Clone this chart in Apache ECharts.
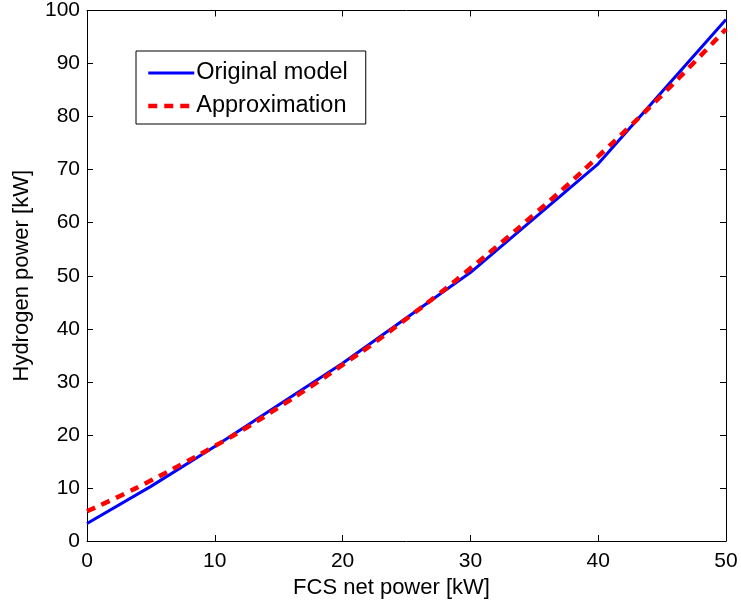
<!DOCTYPE html>
<html>
<head>
<meta charset="utf-8">
<script src="https://cdn.jsdelivr.net/npm/echarts@6/dist/echarts.min.js"></script>
<style>html,body{margin:0;padding:0;background:#fff}#c{width:741px;height:605px}</style>
</head>
<body>
<div id="c"></div>
<script>
const xTicks = [0, 10, 20, 30, 40, 50];
const yTicks = [0, 10, 20, 30, 40, 50, 60, 70, 80, 90, 100];
const originalX = [0, 5, 10, 20, 30, 40, 50];
const originalY = [3.3, 10.3, 17.8, 33.5, 50.6, 71.1, 98.3];
const approxX = [0, 2.5, 5, 7.5, 10, 12.5, 15, 17.5, 20, 22.5, 25, 27.5, 30, 32.5, 35, 37.5, 40, 42.5, 45, 47.5, 50];
const approxY = [5.6, 8.4, 11.4, 14.6, 17.9, 21.4, 25.2, 29.1, 33.2, 37.4, 41.9, 46.5, 51.4, 56.4, 61.6, 66.9, 72.5, 78.2, 84.1, 90.2, 96.5];
const seriesNames = ['Original model', 'Approximation'];

const font = 'Liberation Sans, Arial, Helvetica, sans-serif';
const chart = echarts.init(document.getElementById('c'), null, {renderer: 'canvas'});
const axisCommon = {
  axisLine: {show: true, onZero: false, lineStyle: {color: '#000', width: 1}},
  axisTick: {show: true, inside: true, length: 6, lineStyle: {color: '#000'}},
  splitLine: {show: false}
};
chart.setOption({
  animation: false,
  backgroundColor: '#fff',
  grid: {left: 87, right: 15, top: 9, bottom: 64, containLabel: false},
  legend: {
    data: [
      {name: seriesNames[0], itemStyle: {opacity: 0}, lineStyle: {color: '#0000ff', width: 3, type: 'solid'}},
      {name: seriesNames[1], itemStyle: {opacity: 0}, lineStyle: {color: '#ff0000', width: 4.5, type: [9, 7]}}
    ],
    orient: 'vertical',
    left: 136, top: 51,
    padding: [10, 18, 6, 10],
    itemGap: 9,
    itemWidth: 46, itemHeight: 14,
    borderColor: '#000', borderWidth: 1, borderRadius: 0,
    backgroundColor: '#fff',
    textStyle: {fontFamily: font, fontSize: 23.5, color: '#000', lineHeight: 20, padding: [0, 0, 0, -3]}
  },
  xAxis: [
    Object.assign({}, axisCommon, {
      type: 'value', min: 0, max: 50, interval: 10, position: 'bottom',
      name: 'FCS net power [kW]', nameLocation: 'middle', nameGap: 30,
      nameTextStyle: {fontFamily: font, fontSize: 22, color: '#000', padding: [0, 30, 0, 0]},
      axisLabel: {fontFamily: font, fontSize: 21, color: '#000', margin: 10,
        formatter: v => xTicks.includes(v) ? String(v) : ''}
    }),
    Object.assign({}, axisCommon, {
      type: 'value', min: 0, max: 50, interval: 10, position: 'top',
      axisLabel: {show: false}
    })
  ],
  yAxis: [
    Object.assign({}, axisCommon, {
      type: 'value', min: 0, max: 100, interval: 10, position: 'left',
      name: 'Hydrogen power [kW]', nameLocation: 'middle', nameGap: 54,
      nameTextStyle: {fontFamily: font, fontSize: 22, color: '#000'},
      axisLabel: {fontFamily: font, fontSize: 21, color: '#000', margin: 7,
        formatter: v => yTicks.includes(v) ? String(v) : ''}
    }),
    Object.assign({}, axisCommon, {
      type: 'value', min: 0, max: 100, interval: 10, position: 'right',
      axisLabel: {show: false}
    })
  ],
  series: [
    {
      name: seriesNames[0], type: 'line', symbol: 'none', smooth: false,
      data: originalX.map((x, i) => [x, originalY[i]]),
      lineStyle: {color: '#0000ff', width: 3}, itemStyle: {color: '#0000ff'}, z: 2
    },
    {
      name: seriesNames[1], type: 'line', symbol: 'none', smooth: true,
      data: approxX.map((x, i) => [x, approxY[i]]),
      lineStyle: {color: '#ff0000', width: 4.5, type: [9, 7]}, itemStyle: {color: '#ff0000'}, z: 3
    }
  ]
});
</script>
</body>
</html>
